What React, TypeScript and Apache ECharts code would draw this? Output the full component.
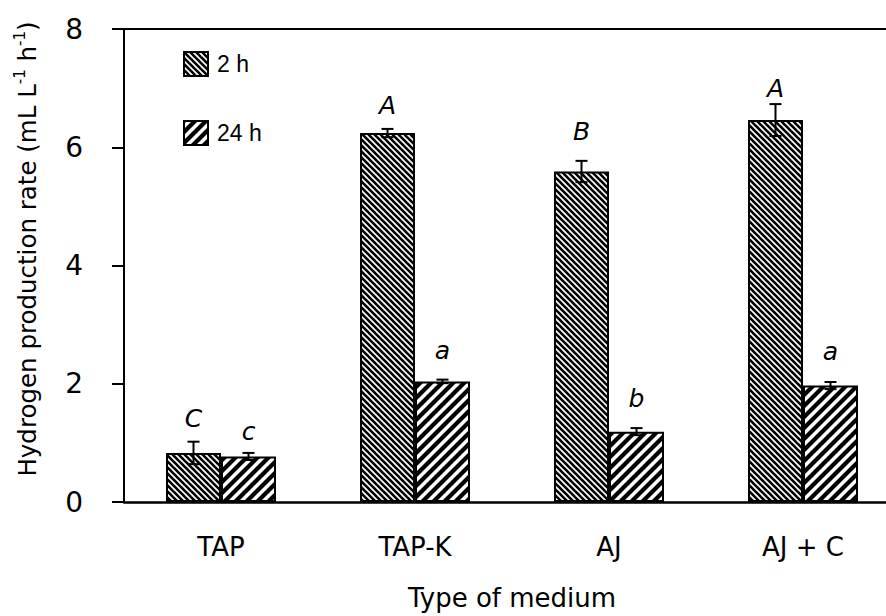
import React, { useEffect, useRef } from "react";
import * as echarts from "echarts";

const categories = ["TAP", "TAP-K", "AJ", "AJ + C"];
const seriesNames = ["2 h", "24 h"];
const rate2h = [0.83, 6.24, 5.59, 6.46];
const err2h = [0.19, 0.07, 0.18, 0.27];
const rate24h = [0.77, 2.04, 1.19, 1.97];
const err24h = [0.06, 0.03, 0.06, 0.06];
const letters2h = ["C", "A", "B", "A"];
const letters24h = ["c", "a", "b", "a"];
// value at which each letter's baseline sits
const letterBase2h = [1.22, 6.51, 6.07, 6.8];
const letterBase24h = [1.0, 2.36, 1.56, 2.35];
const yMin = 0;
const yMax = 8;
const yStep = 2;

const FONT = "DejaVu Sans";

function makeHatch(size: number, lw: number, dir: "back" | "fwd") {
  const c = document.createElement("canvas");
  c.width = size;
  c.height = size;
  const ctx = c.getContext("2d")!;
  ctx.fillStyle = "#fff";
  ctx.fillRect(0, 0, size, size);
  ctx.strokeStyle = "#000";
  ctx.lineWidth = lw;
  ctx.lineCap = "square";
  for (let k = -1; k <= 1; k++) {
    ctx.beginPath();
    if (dir === "back") {
      ctx.moveTo(k * size, 0);
      ctx.lineTo(k * size + size, size);
    } else {
      ctx.moveTo(k * size, size);
      ctx.lineTo(k * size + size, 0);
    }
    ctx.stroke();
  }
  return { image: c, repeat: "repeat", imageWidth: size, imageHeight: size } as any;
}

export default function App() {
  const ref = useRef<HTMLDivElement>(null);
  useEffect(() => {
    if (!ref.current) return;
    const chart = echarts.init(ref.current, null, { renderer: "svg" });
    const hatch2 = makeHatch(6, 2.6, "back");
    const hatch24 = makeHatch(11, 4.2, "fwd");
    const OFFSET = 27.5;

    const makeErr = (
      vals: number[],
      errs: number[],
      bases: number[],
      letters: string[],
      sign: number
    ) => ({
      type: "custom",
      xAxisIndex: 0,
      yAxisIndex: 0,
      silent: true,
      clip: false,
      z: 10,
      data: vals.map((v, i) => [i, v, errs[i], bases[i]]),
      encode: { x: 0, y: 1 },
      renderItem: (params: any, api: any) => {
        const idx = api.value(0);
        const v = api.value(1);
        const e = api.value(2);
        const b = api.value(3);
        const top = api.coord([idx, v + e]);
        const bot = api.coord([idx, v - e]);
        const lp = api.coord([idx, b]);
        const x = top[0] + sign * OFFSET;
        const cap = 6;
        return {
          type: "group",
          children: [
            {
              type: "line",
              shape: { x1: x, y1: top[1], x2: x, y2: bot[1] },
              style: { stroke: "#000", lineWidth: 2 },
            },
            {
              type: "line",
              shape: { x1: x - cap, y1: top[1], x2: x + cap, y2: top[1] },
              style: { stroke: "#000", lineWidth: 2 },
            },
            {
              type: "line",
              shape: { x1: x - cap, y1: bot[1], x2: x + cap, y2: bot[1] },
              style: { stroke: "#000", lineWidth: 2 },
            },
            {
              type: "text",
              x: x,
              y: lp[1] + 1,
              style: {
                text: letters[params.dataIndex],
                fontSize: 25,
                fontStyle: "italic",
                fontFamily: FONT,
                fill: "#000",
                align: "center",
                verticalAlign: "bottom",
              },
            },
          ],
        };
      },
    });

    chart.setOption({
      animation: false,
      backgroundColor: "#fff",
      grid: {
        left: 124,
        top: 29,
        width: 776,
        height: 473,
        containLabel: false,
        outerBoundsMode: "none",
      },
      legend: {
        orient: "vertical",
        left: 183,
        top: 51,
        padding: 0,
        itemWidth: 24,
        itemHeight: 24,
        itemGap: 43,
        icon: "rect",
        selectedMode: false,
        data: seriesNames,
        textStyle: {
          fontSize: 23,
          fontFamily: "Liberation Sans",
          color: "#000",
          padding: [0, 0, 0, 4],
        },
      },
      xAxis: [
        {
          type: "category",
          data: categories,
          position: "bottom",
          axisLine: { lineStyle: { color: "#000", width: 2.5 } },
          axisTick: {
            alignWithLabel: true,
            length: 9,
            lineStyle: { color: "#000", width: 1.5 },
          },
          axisLabel: {
            margin: 32,
            fontSize: 26,
            fontFamily: FONT,
            color: "#000",
          },
          name: "Type of medium",
          nameLocation: "middle",
          nameGap: 83,
          nameTextStyle: { fontSize: 26, fontFamily: FONT, color: "#000" },
        },
        {
          type: "category",
          data: categories,
          position: "top",
          axisLine: { lineStyle: { color: "#000", width: 2 } },
          axisTick: { show: false },
          axisLabel: { show: false },
        },
      ],
      yAxis: {
        type: "value",
        min: yMin,
        max: yMax,
        interval: yStep,
        axisLine: { show: true, lineStyle: { color: "#000", width: 2 } },
        axisTick: { show: true, length: 12, lineStyle: { color: "#000", width: 2 } },
        axisLabel: { margin: 41, fontSize: 28, fontFamily: FONT, color: "#000" },
        splitLine: { show: false },
      },
      graphic: [
        {
          type: "text",
          x: 27,
          y: 249,
          rotation: Math.PI / 2,
          style: {
            text: "{n|Hydrogen production rate (mL L}{s|-1}{n| h}{s|-1}{n|)}",
            fontFamily: FONT,
            fill: "#000",
            align: "center",
            verticalAlign: "middle",
            rich: {
              n: { fontSize: 24.5, fontFamily: FONT, fill: "#000", lineHeight: 30 },
              s: {
                fontSize: 15,
                fontFamily: FONT,
                fill: "#000",
                verticalAlign: "top",
                lineHeight: 30,
                padding: [0, 0, 12, 0],
              },
            },
          },
        },
      ],
      series: [
        {
          name: seriesNames[0],
          type: "bar",
          data: rate2h,
          barWidth: 55,
          barGap: "0%",
          itemStyle: { color: hatch2, borderColor: "#000", borderWidth: 2 },
        },
        {
          name: seriesNames[1],
          type: "bar",
          data: rate24h,
          barWidth: 55,
          barGap: "0%",
          itemStyle: { color: hatch24, borderColor: "#000", borderWidth: 2 },
        },
        makeErr(rate2h, err2h, letterBase2h, letters2h, -1),
        makeErr(rate24h, err24h, letterBase24h, letters24h, 1),
      ],
    });
    return () => chart.dispose();
  }, []);
  return (
    <div
      ref={ref}
      style={{ position: "fixed", left: 0, top: 0, width: 886, height: 616, background: "#fff" }}
    />
  );
}
